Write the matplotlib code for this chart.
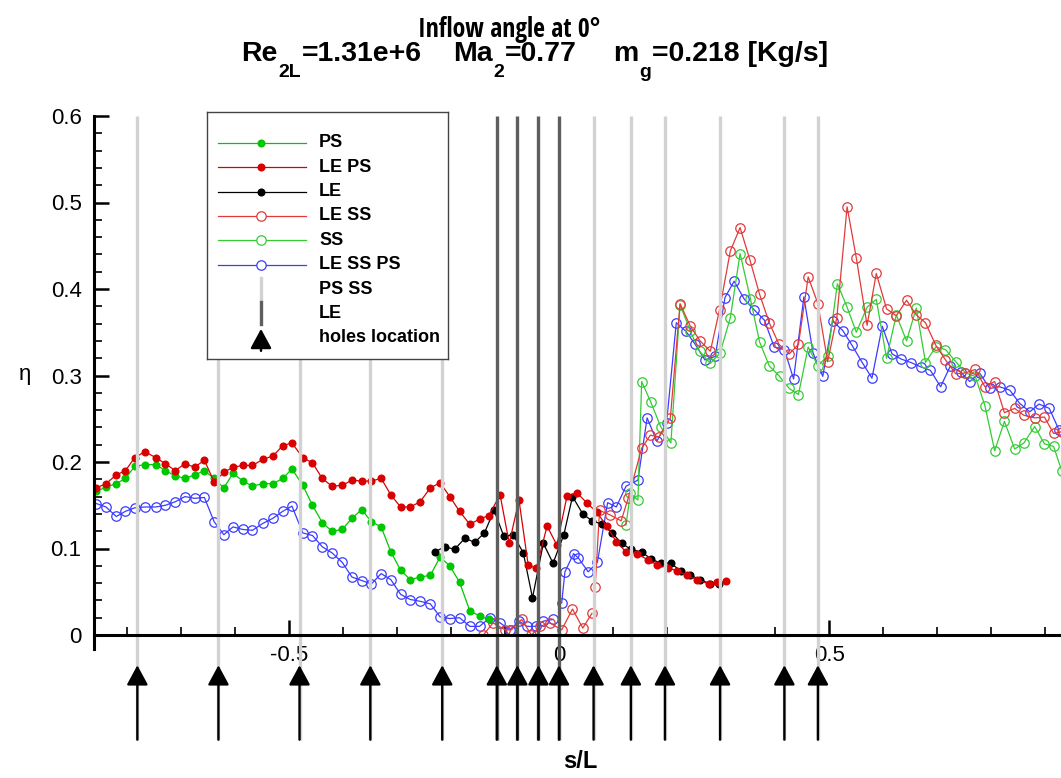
import os
import numpy as np
import matplotlib
matplotlib.use("Agg")
import matplotlib.pyplot as plt
from matplotlib import font_manager as fm
from matplotlib.ticker import MultipleLocator, FuncFormatter
from matplotlib.lines import Line2D

# ---------------------------------------------------------------- data
# PS (pressure side), filled green
ps_x = [-0.856, -0.838, -0.819, -0.802, -0.785, -0.766, -0.746, -0.728, -0.710, -0.692,
        -0.674, -0.656, -0.638, -0.620, -0.603, -0.585, -0.567, -0.548, -0.529, -0.511,
        -0.494, -0.474, -0.456, -0.438, -0.420, -0.401, -0.383, -0.365, -0.347, -0.329,
        -0.311, -0.293, -0.275, -0.257, -0.238, -0.220, -0.202, -0.184, -0.165, -0.147,
        -0.130]
ps_y = [0.166, 0.171, 0.175, 0.181, 0.195, 0.197, 0.197, 0.190, 0.184, 0.181,
        0.185, 0.190, 0.181, 0.170, 0.187, 0.178, 0.172, 0.175, 0.175, 0.181,
        0.192, 0.173, 0.150, 0.130, 0.120, 0.122, 0.135, 0.145, 0.131, 0.125,
        0.096, 0.075, 0.064, 0.067, 0.069, 0.090, 0.080, 0.061, 0.028, 0.022,
        0.018]

# LE PS, filled red
le_ps_x = [-0.856, -0.838, -0.819, -0.802, -0.785, -0.766, -0.746, -0.728, -0.710, -0.692,
           -0.674, -0.656, -0.638, -0.620, -0.603, -0.585, -0.567, -0.548, -0.529, -0.511,
           -0.494, -0.474, -0.456, -0.438, -0.420, -0.401, -0.383, -0.365, -0.347, -0.329,
           -0.311, -0.293, -0.275, -0.257, -0.238, -0.220, -0.202, -0.184, -0.165, -0.147,
           -0.130, -0.109, -0.092, -0.074, -0.057, -0.042, -0.022, -0.004, 0.015, 0.034,
           0.051, 0.070, 0.088, 0.106, 0.124, 0.144, 0.164, 0.182, 0.201, 0.218,
           0.236, 0.256, 0.277, 0.292, 0.309]
le_ps_y = [0.170, 0.175, 0.185, 0.190, 0.205, 0.212, 0.205, 0.198, 0.190, 0.198,
           0.194, 0.202, 0.177, 0.188, 0.194, 0.196, 0.196, 0.203, 0.207, 0.219,
           0.222, 0.205, 0.199, 0.181, 0.172, 0.173, 0.179, 0.178, 0.178, 0.181,
           0.162, 0.148, 0.148, 0.154, 0.170, 0.176, 0.160, 0.143, 0.128, 0.134,
           0.138, 0.162, 0.106, 0.156, 0.081, 0.077, 0.126, 0.104, 0.161, 0.164,
           0.153, 0.142, 0.126, 0.108, 0.096, 0.094, 0.087, 0.081, 0.078, 0.074,
           0.069, 0.064, 0.059, 0.061, 0.062]

# LE (leading edge), filled black
le_x = [-0.230, -0.211, -0.193, -0.174, -0.156, -0.138, -0.120, -0.102, -0.085, -0.066,
        -0.049, -0.029, -0.011, 0.009, 0.025, 0.044, 0.061, 0.080, 0.098, 0.116,
        0.133, 0.153, 0.170, 0.188, 0.207, 0.225, 0.243, 0.261, 0.280, 0.296]
le_y = [0.096, 0.102, 0.099, 0.112, 0.107, 0.118, 0.144, 0.114, 0.116, 0.095,
        0.043, 0.106, 0.083, 0.116, 0.160, 0.140, 0.132, 0.128, 0.118, 0.106,
        0.099, 0.096, 0.088, 0.083, 0.083, 0.074, 0.069, 0.064, 0.059, 0.059]

# LE SS, open red (two runs)
le_ss_x1 = [-0.140, -0.122, -0.100, -0.088, -0.069, -0.051, -0.035, -0.017, 0.005, 0.025,
            0.044, 0.061]
le_ss_y1 = [0.000, 0.014, 0.006, 0.006, 0.018, 0.000, 0.010, 0.014, 0.006, 0.030,
            0.008, 0.025]
le_ss_x2 = [0.067, 0.075, 0.094, 0.115, 0.128, 0.153, 0.169, 0.185, 0.206, 0.224,
            0.243, 0.261, 0.280, 0.297, 0.317, 0.335, 0.353, 0.371, 0.389, 0.407,
            0.426, 0.443, 0.461, 0.479, 0.497, 0.514, 0.533, 0.550, 0.570, 0.587,
            0.606, 0.624, 0.643, 0.661, 0.678, 0.697, 0.715, 0.734, 0.752, 0.770,
            0.788, 0.806, 0.824, 0.843, 0.860, 0.880, 0.898, 0.915, 0.930]
le_ss_y2 = [0.056, 0.144, 0.139, 0.132, 0.158, 0.216, 0.231, 0.229, 0.251, 0.383,
            0.357, 0.340, 0.328, 0.376, 0.444, 0.471, 0.434, 0.394, 0.361, 0.336,
            0.325, 0.336, 0.414, 0.383, 0.316, 0.367, 0.495, 0.436, 0.358, 0.418,
            0.377, 0.369, 0.387, 0.370, 0.361, 0.335, 0.318, 0.302, 0.303, 0.307,
            0.287, 0.293, 0.257, 0.262, 0.254, 0.251, 0.252, 0.233, 0.235]

# SS (suction side), open green
ss_x = [0.124, 0.132, 0.146, 0.153, 0.170, 0.188, 0.207, 0.224, 0.243, 0.260,
        0.280, 0.298, 0.317, 0.335, 0.354, 0.371, 0.389, 0.408, 0.426, 0.443,
        0.461, 0.479, 0.497, 0.515, 0.533, 0.550, 0.570, 0.587, 0.606, 0.624,
        0.643, 0.661, 0.678, 0.697, 0.715, 0.734, 0.752, 0.770, 0.788, 0.806,
        0.824, 0.843, 0.860, 0.880, 0.898, 0.915, 0.930]
ss_y = [0.127, 0.164, 0.156, 0.293, 0.269, 0.241, 0.222, 0.382, 0.351, 0.328,
        0.314, 0.326, 0.367, 0.441, 0.389, 0.339, 0.311, 0.299, 0.285, 0.278,
        0.333, 0.311, 0.323, 0.406, 0.379, 0.350, 0.379, 0.388, 0.320, 0.370,
        0.340, 0.378, 0.315, 0.333, 0.330, 0.316, 0.303, 0.299, 0.265, 0.213,
        0.247, 0.215, 0.222, 0.241, 0.221, 0.218, 0.190]

# LE SS PS, open blue (two runs)
le_ss_ps_x1 = [-0.856, -0.838, -0.819, -0.802, -0.785, -0.766, -0.746, -0.728, -0.710, -0.692,
               -0.674, -0.656, -0.638, -0.620, -0.603, -0.585, -0.567, -0.548, -0.529, -0.511,
               -0.494, -0.474, -0.456, -0.438, -0.420, -0.401, -0.383, -0.365, -0.347, -0.329,
               -0.311, -0.293, -0.275, -0.257, -0.238, -0.220, -0.202, -0.184, -0.165, -0.147,
               -0.128, -0.109, -0.091, -0.074, -0.059, -0.043, -0.029, -0.011]
le_ss_ps_y1 = [0.152, 0.148, 0.137, 0.143, 0.147, 0.148, 0.148, 0.150, 0.154, 0.160,
               0.158, 0.159, 0.131, 0.116, 0.125, 0.122, 0.121, 0.129, 0.135, 0.143,
               0.149, 0.118, 0.115, 0.102, 0.095, 0.084, 0.067, 0.063, 0.059, 0.071,
               0.064, 0.047, 0.041, 0.039, 0.036, 0.021, 0.019, 0.020, 0.010, 0.010,
               0.020, 0.014, 0.006, 0.016, 0.010, 0.010, 0.016, 0.018]
le_ss_ps_x2 = [0.005, 0.011, 0.027, 0.036, 0.054, 0.071, 0.090, 0.106, 0.124, 0.146,
               0.163, 0.181, 0.199, 0.217, 0.235, 0.252, 0.270, 0.289, 0.307, 0.324,
               0.343, 0.361, 0.380, 0.398, 0.417, 0.434, 0.453, 0.470, 0.488, 0.506,
               0.525, 0.542, 0.561, 0.579, 0.598, 0.616, 0.633, 0.651, 0.669, 0.687,
               0.706, 0.724, 0.743, 0.760, 0.778, 0.797, 0.815, 0.834, 0.852, 0.871,
               0.888, 0.907, 0.925]
le_ss_ps_y2 = [0.037, 0.073, 0.094, 0.089, 0.073, 0.084, 0.153, 0.148, 0.172, 0.179,
               0.251, 0.224, 0.245, 0.361, 0.351, 0.336, 0.318, 0.322, 0.390, 0.409,
               0.388, 0.376, 0.364, 0.333, 0.330, 0.296, 0.391, 0.326, 0.299, 0.363,
               0.352, 0.335, 0.315, 0.297, 0.357, 0.325, 0.319, 0.315, 0.310, 0.306,
               0.287, 0.311, 0.304, 0.293, 0.303, 0.285, 0.287, 0.283, 0.268, 0.258,
               0.267, 0.262, 0.237]

# hole positions along s/L
holes_ps_ss = [-0.780, -0.630, -0.480, -0.349, -0.216, 0.064, 0.133, 0.196, 0.298, 0.417, 0.479]
holes_le = [-0.115, -0.077, -0.038, 0.0]

x_ticks = [-0.5, 0.0, 0.5]
y_ticks = [0.0, 0.1, 0.2, 0.3, 0.4, 0.5, 0.6]

title_line1 = "Inflow angle at 0°"
# second title line: groups of (main, subscript, main) runs with their left edge in pixels
title_line2 = [(241, "Re", "2L", "=1.31e+6"),
               (453, "Ma", "2", "=0.77"),
               (613, "m", "g", "=0.218 [Kg/s]")]

# ---------------------------------------------------------------- fonts
def has_font(name):
    try:
        fm.findfont(fm.FontProperties(family=name), fallback_to_default=False)
        return True
    except Exception:
        return False


def condensed_bold_file():
    """Return the path of a narrow/condensed bold sans face, if any is installed."""
    prefs = ["liberationsansnarrow-bold.", "arialnarrow", "notosans-condensedbold.",
             "notosanscondensed-bold", "opensans-condbold", "opensanscondensed-bold",
             "robotocondensed-bold", "dejavusanscondensed-bold."]
    files = sorted({f.fname for f in fm.fontManager.ttflist})
    for p in prefs:
        for fn in files:
            base = os.path.basename(fn).lower()
            if p in base and "italic" not in base and "oblique" not in base:
                return fn
    return None


BASE = "Liberation Sans" if has_font("Liberation Sans") else "DejaVu Sans"
plt.rcParams["font.family"] = [BASE, "DejaVu Sans"]

cond_file = condensed_bold_file()
if cond_file:
    fp_title1 = fm.FontProperties(fname=cond_file, size=18.5)
else:
    fp_title1 = fm.FontProperties(family=BASE, weight="bold", size=15.5)
fp_title2 = fm.FontProperties(family=BASE, weight="bold", size=20.5)
fp_sub = fm.FontProperties(family=BASE, weight="bold", size=14)

W, H = 1061, 778
fig = plt.figure(figsize=(W / 100, H / 100), dpi=100)
fig.patch.set_facecolor("white")

ax = fig.add_axes([94 / W, 1 - 635 / H, (W - 94) / W, (635 - 116) / H])
ax.set_xlim(-0.8602, 0.9287)
ax.set_ylim(0, 0.6)

# ---------------------------------------------------------------- series
C_PS = "#00c800"
C_LEPS = "#d80000"
C_LE = "#000000"
C_LESS = "#e23a3a"
C_SS = "#33cc33"
C_BLUE = "#3c3cff"

filled = dict(marker="o", markersize=5.8, markeredgewidth=0, lw=0.9, zorder=2)
opened = dict(marker="o", markersize=6.8, markerfacecolor="none", markeredgewidth=0.9,
              lw=0.9, zorder=2)

ax.plot(le_ss_ps_x1, le_ss_ps_y1, color=C_BLUE, markeredgecolor=C_BLUE, **opened)
ax.plot(le_ss_ps_x2, le_ss_ps_y2, color=C_BLUE, markeredgecolor=C_BLUE, **opened)
ax.plot(ss_x, ss_y, color=C_SS, markeredgecolor=C_SS, **opened)
ax.plot(le_ss_x1, le_ss_y1, color=C_LESS, markeredgecolor=C_LESS, **opened)
ax.plot(le_ss_x2, le_ss_y2, color=C_LESS, markeredgecolor=C_LESS, **opened)
ax.plot(ps_x, ps_y, color=C_PS, markerfacecolor=C_PS, **filled)
ax.plot(le_x, le_y, color=C_LE, markerfacecolor=C_LE, **filled)
ax.plot(le_ps_x, le_ps_y, color=C_LEPS, markerfacecolor=C_LEPS, **filled)

# ---------------------------------------------------------------- hole markers
y_low = -0.121
y_head = -0.035
ax.vlines(holes_ps_ss, y_low, 0.6, colors="#d2d2d2", lw=2.4, zorder=2.3, clip_on=False)
ax.vlines(holes_le, y_low, 0.6, colors="#5e5e5e", lw=2.4, zorder=2.3, clip_on=False)
arrow_props = dict(arrowstyle="-|>,head_length=12,head_width=6.5", mutation_scale=1,
                   color="black", lw=1.7, shrinkA=0, shrinkB=0)
for hx in holes_ps_ss + holes_le:
    ax.annotate("", xy=(hx, y_head), xytext=(hx, y_low), arrowprops=arrow_props,
                annotation_clip=False, zorder=4)

# ---------------------------------------------------------------- axes cosmetics
for s in ("top", "right"):
    ax.spines[s].set_visible(False)
ax.spines["left"].set_linewidth(2.2)
ax.spines["bottom"].set_linewidth(2.2)
ax.spines["left"].set_bounds(-0.016, 0.6)
ax.spines["left"].set_clip_on(False)
ax.spines["left"].set_zorder(5)
ax.spines["bottom"].set_zorder(5)

ax.set_xticks(x_ticks)
ax.set_yticks(y_ticks)
ax.xaxis.set_minor_locator(MultipleLocator(0.1))
ax.yaxis.set_minor_locator(MultipleLocator(0.02))
fmt = FuncFormatter(lambda v, p: "0" if abs(v) < 1e-9 else f"{v:g}")
ax.xaxis.set_major_formatter(fmt)
ax.yaxis.set_major_formatter(fmt)
ax.tick_params(which="major", direction="in", length=11, width=1.8, labelsize=16, pad=7)
ax.tick_params(which="minor", direction="in", length=6, width=1.2)
ax.tick_params(axis="y", which="major", pad=9)

fig.text(25 / W, 1 - 375 / H, "η", fontsize=16, ha="center", va="center",
         family=[BASE, "DejaVu Sans"])
fig.text(580 / W, 1 - 762 / H, "s/L", fontsize=17, fontweight="bold",
         ha="center", va="center")

# ---------------------------------------------------------------- title
fig.text(509 / W, 1 - 37 / H, title_line1, fontproperties=fp_title1,
         ha="center", va="baseline")

renderer = fig.canvas.get_renderer()
base2 = 61
sub_drop = 16
for x0, head, sub, tail in title_line2:
    xp = x0
    for s, fp, drop in ((head, fp_title2, 0), (sub, fp_sub, sub_drop), (tail, fp_title2, 0)):
        t = fig.text(xp / W, 1 - (base2 + drop) / H, s, fontproperties=fp,
                     ha="left", va="baseline")
        xp += t.get_window_extent(renderer).width + 1

# ---------------------------------------------------------------- legend panel
lg = fig.add_axes([207 / W, 1 - 359 / H, (448 - 207) / W, (359 - 112) / H])
lg.set_xlim(0, 241)
lg.set_ylim(247, 0)
lg.set_xticks([])
lg.set_yticks([])
for s in lg.spines.values():
    s.set_linewidth(1.0)
    s.set_edgecolor("#444444")

rows = [
    ("PS", C_PS, "filled"),
    ("LE PS", C_LEPS, "filled"),
    ("LE", C_LE, "filled"),
    ("LE SS", C_LESS, "open"),
    ("SS", C_SS, "open"),
    ("LE SS PS", C_BLUE, "open"),
    ("PS SS", "#d2d2d2", "vline"),
    ("LE", "#5e5e5e", "vline"),
    ("holes location", "black", "arrow"),
]
row0, dy = 30.7, 24.4
xl0, xl1, xm, xt = 11, 99, 54, 112
for i, (name, col, kind) in enumerate(rows):
    yy = row0 + i * dy
    if kind == "filled":
        lg.add_line(Line2D([xl0, xl1], [yy, yy], color=col, lw=0.9))
        lg.add_line(Line2D([xm], [yy], color=col, marker="o", markersize=5.8,
                           markeredgewidth=0, markerfacecolor=col))
    elif kind == "open":
        lg.add_line(Line2D([xl0, xl1], [yy, yy], color=col, lw=0.9))
        lg.add_line(Line2D([xm], [yy], color=col, marker="o", markersize=6.8,
                           markeredgewidth=0.9, markerfacecolor="white"))
    elif kind == "vline":
        lg.add_line(Line2D([xm, xm], [yy - 11, yy + 11], color=col, lw=2.4))
    else:
        lg.annotate("", xy=(xm, yy - 9), xytext=(xm, yy + 13), arrowprops=arrow_props)
    lg.text(xt, yy, name, fontsize=13, fontweight="bold", ha="left", va="center")

fig.savefig("out.png", dpi=100, facecolor="white")
